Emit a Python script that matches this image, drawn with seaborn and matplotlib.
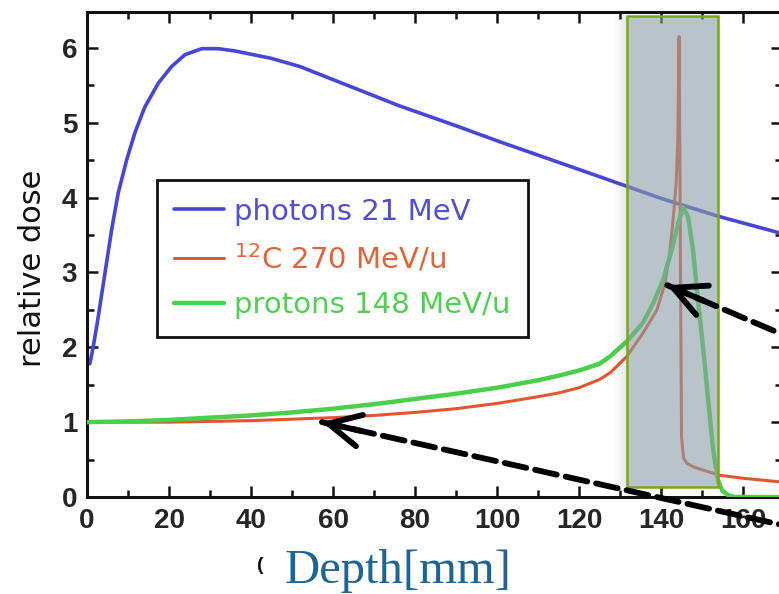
import numpy as np
import pandas as pd
import matplotlib
matplotlib.use("Agg")
import matplotlib.pyplot as plt
import seaborn as sns
from matplotlib.patches import Rectangle
from matplotlib.ticker import MultipleLocator

# ---------------- data ----------------
photon_depth = [0.7, 1.5, 2.75, 4.4, 6.0, 7.6, 9.7, 11.7, 14.1, 17.4, 20.6, 23.9, 28, 32, 36,
                45, 52, 64, 76, 90, 101, 113, 125, 131.7, 140, 154, 169.5]
photon_dose = [1.78, 2.0, 2.41, 3.0, 3.57, 4.06, 4.51, 4.87, 5.21, 5.53, 5.75, 5.91, 5.99,
               5.99, 5.96, 5.86, 5.75, 5.49, 5.23, 4.96, 4.74, 4.51, 4.28, 4.15, 3.99, 3.75,
               3.52]

carbon_depth = [0, 10, 20, 30, 40, 50, 60, 70, 80, 90, 100, 110, 115, 120, 125, 127.6, 131.7,
                135.6, 139, 141, 142.2, 143, 143.7, 144.1, 144.4, 144.6, 144.8, 145.0, 145.5,
                146.3, 148, 150.2, 154.4, 160, 169.5]
carbon_dose = [1.0, 1.0, 1.0, 1.01, 1.02, 1.04, 1.06, 1.09, 1.13, 1.18, 1.25, 1.34, 1.39,
               1.46, 1.57, 1.66, 1.88, 2.19, 2.5, 2.86, 3.3, 3.74, 4.2, 4.8, 6.15, 4.5, 2.5,
               0.8, 0.52, 0.45, 0.40, 0.36, 0.29, 0.25, 0.20]

proton_depth = [0, 10, 20, 30, 40, 50, 60, 70, 80, 90, 100, 110, 115, 120, 125, 127.6, 131.7,
                135.6, 138.1, 140.5, 142.6, 144.2, 145.4, 146.6, 147.8, 149.0, 150.3, 151.5,
                152.7, 153.9, 155, 156.5, 158, 169.5]
proton_dose = [1.0, 1.01, 1.03, 1.06, 1.09, 1.13, 1.18, 1.24, 1.31, 1.38, 1.46, 1.56, 1.62,
               1.69, 1.78, 1.88, 2.08, 2.33, 2.59, 2.9, 3.30, 3.66, 3.87, 3.74, 3.30, 2.63,
               1.97, 1.30, 0.63, 0.22, 0.08, 0.02, 0.0, 0.0]

series_labels = ["photons 21 MeV", r"$^{12}$C 270 MeV/u", "protons 148 MeV/u"]
series_colors = ["#4646d8", "#e2552e", "#48d048"]
label_colors = ["#5050d0", "#e0653c", "#50d050"]
x_ticks = [0, 20, 40, 60, 80, 100, 120, 140, 160]
y_ticks = [0, 1, 2, 3, 4, 5, 6]
xlabel_text = "Depth[mm]"
ylabel_text = "relative dose"

# highlighted Bragg-peak region (data units)
region_x = (131.7, 153.9)
region_y = (0.13, 6.42)
# arrow tips (data units)
arrow_tips = [(141.5, 2.83), (57.3, 1.0)]

# ---------------- figure ----------------
sns.set_style("ticks")
plt.rcParams["font.family"] = ["DejaVu Sans"]

W, H = 779, 594
fig = plt.figure(figsize=(W / 100, H / 100), dpi=100, facecolor="white")
ax = fig.add_axes([87 / W, 97 / H, (782 - 87) / W, (497 - 12) / H])
ax.set_facecolor("white")

frames = [
    pd.DataFrame({"depth": photon_depth, "dose": photon_dose}),
    pd.DataFrame({"depth": carbon_depth, "dose": carbon_dose}),
    pd.DataFrame({"depth": proton_depth, "dose": proton_dose}),
]
widths = [2.6, 2.2, 3.2]
for df, lab, col, lw, z in zip(frames, series_labels, series_colors, widths, [2, 3, 4]):
    sns.lineplot(data=df, x="depth", y="dose", color=col, lw=lw, label=lab,
                 estimator=None, sort=False, ax=ax, zorder=z,
                 solid_joinstyle="round", solid_capstyle="round")

ax.set_xlim(0, 169.5)
ax.set_ylim(0, 6.48)
ax.set_xticks(x_ticks)
ax.set_yticks(y_ticks)
ax.xaxis.set_minor_locator(MultipleLocator(10))
ax.yaxis.set_minor_locator(MultipleLocator(0.5))
ax.tick_params(which="both", direction="in", top=True, right=True, labelright=False,
               labeltop=False, width=1.8, color="#111111")
ax.tick_params(which="major", length=8)
ax.tick_params(which="minor", length=5)
ax.tick_params(axis="x", pad=8)
ax.tick_params(axis="y", pad=7)
for lab in ax.get_xticklabels() + ax.get_yticklabels():
    lab.set_family(["Liberation Sans"])
    lab.set_fontweight("bold")
    lab.set_fontsize(20)
for s in ["left", "bottom", "top"]:
    ax.spines[s].set_linewidth(2.2)
    ax.spines[s].set_color("#111111")
ax.spines["right"].set_visible(False)

ax.set_xlabel("")
ax.set_ylabel(ylabel_text, fontsize=22, family=["DejaVu Sans"], color="#111111")
ax.yaxis.set_label_coords(-0.058, 0.472)

# legend
handles, labels = ax.get_legend_handles_labels()
leg = ax.legend(handles, labels, loc="upper left", bbox_to_anchor=(0.1007, 0.6536),
                borderaxespad=0, fontsize=21, labelcolor=label_colors,
                handlelength=1.71, handletextpad=0.34, borderpad=0.6, labelspacing=0.58,
                fancybox=False, framealpha=1, edgecolor="#111111")
leg.get_frame().set_linewidth(2.0)
leg.set_zorder(6)

# shaded region with soft shadow on its left
n = 10
w = 3.7 / n
for i in range(n):
    ax.add_patch(Rectangle((region_x[0] - (i + 1) * w, region_y[0]), w, region_y[1] - region_y[0],
                           facecolor="#707070", edgecolor="none", alpha=0.16 * (1 - i / n) ** 1.5,
                           zorder=7))
ax.add_patch(Rectangle((region_x[0], region_y[0]), region_x[1] - region_x[0],
                       region_y[1] - region_y[0], facecolor=(0.54, 0.62, 0.65, 0.6),
                       edgecolor="#7aa814", lw=1.8, zorder=8))

# dashed arrows
tails = [(800, H - 342), (800, H - 529)]
for tip, tail in zip(arrow_tips, tails):
    ax.annotate("", xy=tail, xycoords="figure pixels", xytext=tip, textcoords="data",
                arrowprops=dict(arrowstyle="-", lw=4.2, color="black",
                                linestyle=(0, (3.8, 1.55)), shrinkA=0, shrinkB=0),
                zorder=9, annotation_clip=False)
    tip_disp = ax.transData.transform(tip)
    vec = np.array(tail, float) - tip_disp
    vec = vec / np.hypot(*vec)
    back = tip_disp + vec * 40
    ax.annotate("", xy=tip, xycoords="data", xytext=tuple(back), textcoords="figure pixels",
                arrowprops=dict(arrowstyle="->,head_length=2.3,head_width=1.15", lw=4.2,
                                color="black", shrinkA=0, shrinkB=0, capstyle="round",
                                joinstyle="round"),
                zorder=10, annotation_clip=False)

# x label (overlay text) and fragment of original label
fig.text(257 / W, 1 - 570 / H, "(", fontsize=14, fontweight="bold", color="#111111",
         family=["Liberation Sans"], va="baseline", ha="left")
fig.text(285 / W, 1 - 583 / H, xlabel_text, fontsize=35, color="#1f6496",
         family=["Liberation Serif"], va="baseline", ha="left")

fig.savefig("out.png", dpi=100, facecolor="white")
